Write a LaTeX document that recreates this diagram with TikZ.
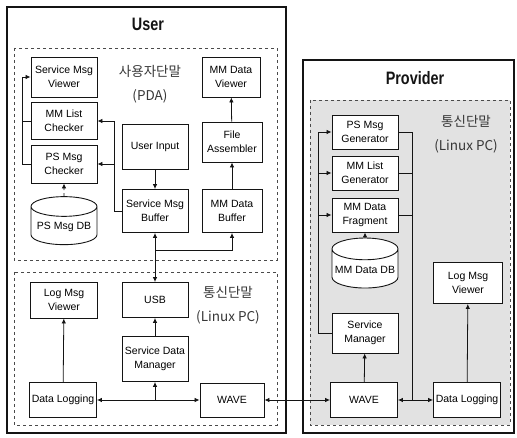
\documentclass[tikz,border=0pt]{standalone}
\usepackage{fontspec}
\setmainfont{Liberation Sans}
\newfontfamily\krfont{Noto Sans CJK KR}
\newfontfamily\headfont[FakeStretch=0.8]{Liberation Sans}
\usetikzlibrary{arrows.meta,shapes.geometric}
\definecolor{ink}{HTML}{141414}
\definecolor{zone}{HTML}{4A4A4A}
\definecolor{speck}{HTML}{E2E2E2}
\tikzset{frame/.style={draw=ink,line width=1.8pt},
zonebox/.style={draw=zone,dashed,line width=.8pt},
blk/.style={draw=ink,fill=white,line width=.9pt,align=center,inner sep=1pt,
  font=\fontsize{10.5}{14}\selectfont,minimum width=66pt,minimum height=38pt},
db/.style={cylinder,shape border rotate=90,shape aspect=.35,draw=ink,fill=white,line width=.9pt,
  font=\fontsize{10.5}{14}\selectfont,minimum width=66pt,minimum height=48pt,inner sep=1pt},
head/.style={font=\headfont\bfseries\fontsize{18}{20}\selectfont,text=ink},
lab/.style={font=\krfont\fontsize{13.5}{24}\selectfont,text=ink!85,align=center},
arr/.style={-{Latex[length=5pt,width=4.5pt]},line width=.8pt,ink},
duo/.style={{Latex[length=5pt,width=4.5pt]}-{Latex[length=5pt,width=4.5pt]},line width=.8pt,ink},
wire/.style={line width=.8pt,ink}}
\begin{document}
\begin{tikzpicture}[x=1pt,y=-1pt]
\useasboundingbox (0,0) rectangle (517,438);
% outer frames and zones
\draw[frame] (7,7) rectangle (286,433);
\draw[frame] (303,60) rectangle (514,433);
\draw[zonebox] (14,48) rectangle (277,260);
\draw[zonebox] (14,272) rectangle (277,425);
\draw[zonebox,fill=speck] (310,100) rectangle (510,425);
\node[head] (user) at (148,24) {User};
\node[head] (prov) at (415,78) {Provider};
\node[lab] (pda) at (150,84) {사용자단말\\(PDA)};
\node[lab] (upc) at (228,305) {통신단말\\(Linux PC)};
\node[lab] (ppc) at (466,134) {통신단말\\(Linux PC)};
% user: PDA
\node[blk,minimum height=40pt] (smv) at (64,77) {Service Msg\\Viewer};
\node[blk,minimum height=37pt] (mlc) at (64,121) {MM List\\Checker};
\node[blk] (pmc) at (64,164) {PS Msg\\Checker};
\node[db] (pdb) at (64,227) {PS Msg DB};
\node[blk,minimum width=58pt,minimum height=40pt] (mdv) at (231,77) {MM Data\\Viewer};
\node[blk,minimum height=45pt] (uin) at (155,147) {User Input};
\node[blk,minimum width=60pt,minimum height=40pt] (fas) at (232,142) {File\\Assembler};
\node[blk,minimum height=43pt] (smb) at (155,211) {Service Msg\\Buffer};
\node[blk,minimum width=60pt,minimum height=43pt] (mdb) at (232,211) {MM Data\\Buffer};
% user: Linux PC
\node[blk,minimum width=67pt,minimum height=36pt] (ulv) at (64,300) {Log Msg\\Viewer};
\node[blk,minimum height=35pt] (usb) at (155,300) {USB};
\node[blk,minimum height=45pt] (sdm) at (155,359) {Service Data\\Manager};
\node[blk,minimum width=67pt,minimum height=35pt] (udl) at (63,400) {Data Logging};
\node[blk,minimum width=64pt,minimum height=34pt] (uwv) at (232,400) {WAVE};
% provider
\node[blk,minimum height=34pt] (pmg) at (365,132) {PS Msg\\Generator};
\node[blk,minimum height=34pt] (mlg) at (365,173) {MM List\\Generator};
\node[blk,minimum height=34pt] (mdf) at (365,215) {MM Data\\Fragment};
\node[db,minimum height=50pt] (mdd) at (365,270) {MM Data DB};
\node[blk,minimum height=40pt] (smg) at (365,333) {Service\\Manager};
\node[blk,minimum width=67pt,minimum height=35pt] (pwv) at (364,400) {WAVE};
\node[blk,minimum width=69pt,minimum height=41pt] (plv) at (468,283) {Log Msg\\Viewer};
\node[blk,minimum width=67pt,minimum height=35pt] (pdl) at (467,400) {Data Logging};
% connectors, PDA
\draw[arr] (uin) -- (smb);
\draw[arr] (mdb) -- (fas);
\draw[arr] (fas) -- (mdv);
\draw[arr,dashed] (pdb.north) -- (pmc);
\coordinate (lk) at (114,211);
\draw[arr] (smb.west) -- (lk) |- (mlc.east);
\draw[arr] (lk |- pmc.east) -- (pmc.east);
\coordinate (lv) at (22,164);
\draw[arr] (pmc.west) -- (lv) |- (smv.west);
\draw[wire] (mlc.west) -- (lv |- mlc.west);
\coordinate (bb) at (155,250);
\draw[duo] (smb) -- (usb);
\draw[arr] (bb) -| (mdb);
% connectors, user PC
\draw[arr] (udl) -- (ulv);
\draw[arr] (sdm) -- (usb);
\draw[duo] (udl) -- (uwv);
\draw[arr] (sdm |- udl) -- (sdm);
\draw[duo] (uwv) -- (pwv);
% connectors, provider
\coordinate (pl) at (318,333);
\draw[wire] (smg.west) -- (pl);
\draw[arr] (pl) |- (pmg.west);
\draw[arr] (pl |- mlg.west) -- (mlg.west);
\draw[arr] (pl |- mdf.west) -- (mdf.west);
\coordinate (pr) at (412,400);
\draw[wire] (pmg.east) -| (pr);
\draw[wire] (mlg.east) -- (pr |- mlg.east);
\draw[wire] (mdf.east) -- (pr |- mdf.east);
\draw[arr,dashed] (mdd.north) -- (mdf);
\draw[arr] (pwv) -- (smg);
\draw[duo] (pwv) -- (pdl);
\draw[arr] (pdl) -- (plv);
\end{tikzpicture}
\end{document}
